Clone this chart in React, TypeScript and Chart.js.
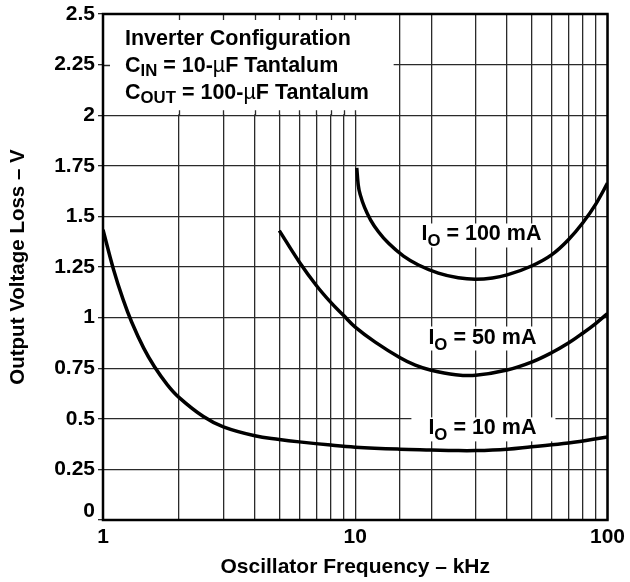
import React, { useEffect, useRef } from 'react';
import { Chart, registerables } from 'chart.js';

Chart.register(...registerables);

// ---------- data ----------
const freq10 = [1, 1.1, 1.2, 1.3, 1.45, 1.6, 1.8, 2, 2.5, 3, 4, 5, 6, 8, 10, 15, 20, 25, 30, 40, 50, 70, 100];
const loss10 = [1.434, 1.239, 1.091, 0.977, 0.849, 0.757, 0.668, 0.606, 0.511, 0.46, 0.416, 0.398, 0.386, 0.37, 0.36, 0.35, 0.346, 0.343, 0.343, 0.35, 0.362, 0.38, 0.41];

const freq50 = [5, 6, 7, 8, 9, 10, 12, 15, 17.3, 20, 25, 30, 40, 50, 60, 70, 80, 90, 100];
const loss50 = [1.43, 1.275, 1.16, 1.075, 1.01, 0.953, 0.879, 0.803, 0.765, 0.74, 0.718, 0.715, 0.741, 0.78, 0.826, 0.874, 0.924, 0.972, 1.02];

const freq100 = [10.14, 10.28, 10.51, 10.9, 11.51, 12.38, 13.56, 15.54, 17.81, 21.35, 25.6, 29.9, 35, 40, 50, 60, 70, 80, 90, 100];
const loss100 = [1.74, 1.654, 1.6, 1.543, 1.482, 1.423, 1.367, 1.304, 1.26, 1.22, 1.197, 1.19, 1.196, 1.211, 1.255, 1.31, 1.385, 1.47, 1.562, 1.664];

const xMin = 1;
const xMax = 100;
const yMin = 0;
const yMax = 2.5;
const yStep = 0.25;
const xLabeledTicks = [1, 10, 100];
const xTickLabels = ['1', '10', '100'];
const xTitle = 'Oscillator Frequency – kHz';
const yTitle = 'Output Voltage Loss – V';

type Run = { t: string; sub?: boolean; light?: boolean };

const annotationLines: Run[][] = [
  [{ t: 'Inverter Configuration' }],
  [{ t: 'C' }, { t: 'IN', sub: true }, { t: ' = 10-' }, { t: 'µ', light: true }, { t: 'F Tantalum' }],
  [{ t: 'C' }, { t: 'OUT', sub: true }, { t: ' = 100-' }, { t: 'µ', light: true }, { t: 'F Tantalum' }],
];

// curve labels: anchor (frequency, value) of the left end of the text baseline
const curveLabels = [
  { runs: [{ t: 'I' }, { t: 'O', sub: true }, { t: ' = 100 mA' }] as Run[], f: 18.3, v: 1.381, padL: 2, padR: 2 },
  { runs: [{ t: 'I' }, { t: 'O', sub: true }, { t: ' = 50 mA' }] as Run[], f: 19.5, v: 0.872, padL: 2, padR: 2 },
  { runs: [{ t: 'I' }, { t: 'O', sub: true }, { t: ' = 10 mA' }] as Run[], f: 19.5, v: 0.423, padL: 17, padR: 19 },
];

const FONT = '"Liberation Sans", Arial, Helvetica, sans-serif';
const GRID = '#2a2a2a';
const GRID_W = 1.3;

function drawRuns(ctx: CanvasRenderingContext2D, runs: Run[], x: number, y: number, size: number, subDrop: number) {
  let cx = x;
  for (const r of runs) {
    const s = r.sub ? size * 0.78 : size;
    ctx.font = `${r.light ? 'normal' : 'bold'} ${s}px ${FONT}`;
    ctx.fillText(r.t, cx, y + (r.sub ? subDrop : 0));
    cx += ctx.measureText(r.t).width;
  }
  return cx - x;
}

function measureRuns(ctx: CanvasRenderingContext2D, runs: Run[], size: number) {
  let w = 0;
  for (const r of runs) {
    const s = r.sub ? size * 0.78 : size;
    ctx.font = `${r.light ? 'normal' : 'bold'} ${s}px ${FONT}`;
    w += ctx.measureText(r.t).width;
  }
  return w;
}

const overlayPlugin = {
  id: 'overlay',
  beforeDatasetsDraw(chart: any) {
    const { ctx, chartArea: a, scales } = chart;
    const xs = scales.x;
    const ys = scales.y;
    ctx.save();
    // white annotation box
    const bx2 = xs.getPixelForValue(14.2);
    const by2 = ys.getPixelForValue(2);
    ctx.fillStyle = '#fff';
    ctx.fillRect(a.left + 1, a.top + 1, bx2 - a.left - 1, by2 - a.top - 1.8);
    // stubs
    ctx.strokeStyle = GRID;
    ctx.lineWidth = GRID_W;
    ctx.beginPath();
    for (let f = 2; f <= 10; f++) {
      const px = Math.round(xs.getPixelForValue(f)) + 0.5;
      ctx.moveTo(px, a.top);
      ctx.lineTo(px, a.top + 6);
      ctx.moveTo(px, by2);
      ctx.lineTo(px, by2 - 5);
    }
    const p225 = Math.round(ys.getPixelForValue(2.25)) + 0.5;
    ctx.moveTo(a.left, p225);
    ctx.lineTo(a.left + 7, p225);
    ctx.stroke();

    // annotation text
    ctx.fillStyle = '#000';
    ctx.textAlign = 'left';
    ctx.textBaseline = 'alphabetic';
    const tx = a.left + 22;
    const baselines = [a.top + 31, a.top + 58, a.top + 85];
    annotationLines.forEach((runs, i) => drawRuns(ctx, runs, tx, baselines[i], 21.5, 4));

    // curve labels with white backing
    for (const lab of curveLabels) {
      const lx = xs.getPixelForValue(lab.f);
      const ly = ys.getPixelForValue(lab.v);
      const w = measureRuns(ctx, lab.runs, 21.5);
      ctx.fillStyle = '#fff';
      ctx.fillRect(lx - lab.padL, ly - 17, w + lab.padL + lab.padR, 24);
      ctx.fillStyle = '#000';
      drawRuns(ctx, lab.runs, lx, ly, 21.5, 6);
    }
    ctx.restore();
  },
  afterDraw(chart: any) {
    const { ctx, chartArea: a } = chart;
    ctx.save();
    ctx.strokeStyle = '#000';
    ctx.lineWidth = 2.5;
    ctx.strokeRect(a.left, a.top, a.right - a.left, a.bottom - a.top);
    ctx.restore();
  },
};

function toPoints(xs: number[], ys: number[]) {
  return xs.map((x, i) => ({ x, y: ys[i] }));
}

export default function App() {
  const ref = useRef<HTMLCanvasElement>(null);
  useEffect(() => {
    if (!ref.current) return;
    const lineStyle = {
      borderColor: '#000',
      borderWidth: 3.5,
      pointRadius: 0,
      fill: false,
      tension: 0.4,
    };
    const chart = new Chart(ref.current, {
      type: 'line',
      data: {
        datasets: [
          { label: '10 mA', data: toPoints(freq10, loss10), ...lineStyle },
          { label: '50 mA', data: toPoints(freq50, loss50), ...lineStyle },
          { label: '100 mA', data: toPoints(freq100, loss100), ...lineStyle, cubicInterpolationMode: 'monotone' as const },
        ],
      },
      options: {
        responsive: false,
        animation: false,
        layout: { padding: { top: 14, right: 20, left: 0, bottom: 0 } },
        plugins: { legend: { display: false }, tooltip: { enabled: false } },
        scales: {
          x: {
            type: 'logarithmic',
            min: xMin,
            max: xMax,
            afterFit: (s: any) => { s.height = 62; },
            grid: { color: GRID, lineWidth: GRID_W, drawTicks: false },
            border: { display: false },
            ticks: {
              autoSkip: false,
              maxRotation: 0,
              minRotation: 0,
              padding: 5,
              color: '#000',
              font: { family: FONT, size: 21, weight: 'bold' },
              callback: (v: any) => {
                const i = xLabeledTicks.findIndex((t) => Math.abs(t - Number(v)) < 1e-9);
                return i >= 0 ? xTickLabels[i] : '';
              },
            },
            title: {
              display: true,
              text: xTitle,
              color: '#000',
              font: { family: FONT, size: 21, weight: 'bold' },
              padding: { top: 0, bottom: 2 },
            },
          },
          y: {
            type: 'linear',
            min: yMin,
            max: yMax,
            afterFit: (s: any) => { s.width = 103; },
            grid: { color: GRID, lineWidth: GRID_W, drawTicks: true, tickLength: 5 },
            border: { display: false },
            ticks: {
              stepSize: yStep,
              padding: 3,
              color: '#000',
              font: { family: FONT, size: 21, weight: 'bold', lineHeight: 0.8 },
              callback: (v: any) => {
                const s = parseFloat(Number(v).toFixed(2)).toString();
                return Number(v) === 0 ? [s, ''] : s;
              },
            },
            title: {
              display: true,
              text: yTitle,
              color: '#000',
              font: { family: FONT, size: 20.5, weight: 'bold' },
              padding: { top: 6, bottom: 0 },
            },
          },
        },
      },
      plugins: [overlayPlugin],
    });
    return () => chart.destroy();
  }, []);
  return (
    <div style={{ position: 'absolute', left: 0, top: 0, width: 630, height: 582, background: '#fff' }}>
      <canvas ref={ref} width={630} height={582} style={{ display: 'block' }} />
    </div>
  );
}
